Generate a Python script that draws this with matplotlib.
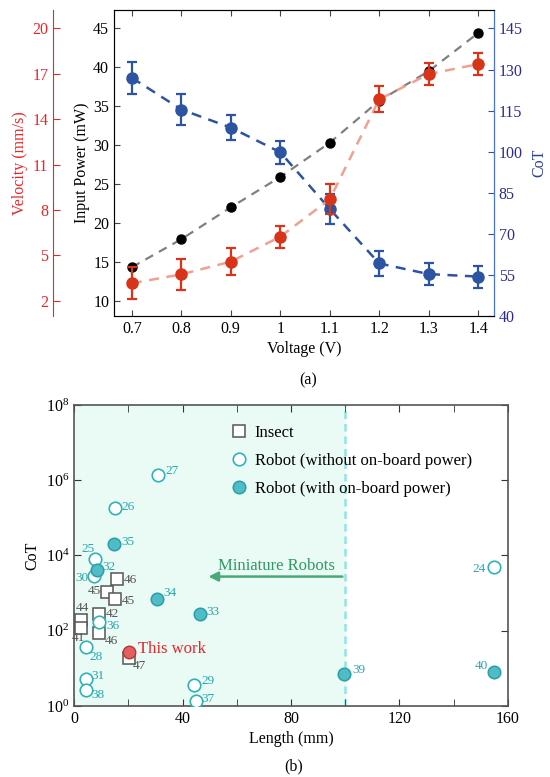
import matplotlib.pyplot as plt
import numpy as np

plt.rcParams['font.family'] = ['Liberation Serif', 'DejaVu Serif']
plt.rcParams['mathtext.fontset'] = 'stix'

# ---- panel (a) data
voltage = [0.7, 0.8, 0.9, 1.0, 1.1, 1.2, 1.3, 1.4]
power = [14.3, 17.9, 22.0, 25.9, 30.3, 35.7, 39.5, 44.4]
velocity = [3.15, 3.74, 4.58, 6.23, 8.70, 15.31, 16.98, 17.64]
velocity_err = [1.05, 1.02, 0.89, 0.73, 0.99, 0.86, 0.75, 0.75]
cot = [127.0, 115.4, 108.8, 99.8, 79.1, 59.2, 55.3, 54.4]
cot_err = [5.9, 5.6, 4.6, 4.2, 5.6, 4.6, 4.1, 4.0]

# ---- panel (b) data
insect_len = [15.9, 12.2, 15.0, 9.2, 2.5, 2.5, 9.2, 20.1]
insect_cot = [2300, 1070, 700, 280, 195, 116, 86, 19]
insect_ref = ['46', '45', '45', '42', '44', '41', '46', '47']

free_len = [30.9, 15.1, 7.5, 7.4, 9.1, 4.4, 4.3, 4.3, 44.3, 44.9, 155.0]
free_cot = [1.4e6, 1.8e5, 8.0e3, 2.9e3, 170, 38, 5.1, 2.7, 3.7, 1.36, 5.0e3]
free_ref = ['27', '26', '25', '30', '36', '28', '31', '38', '29', '37', '24']

power_len = [14.7, 8.3, 30.4, 46.4, 99.7, 155.0]
power_cot = [2.0e4, 4.0e3, 700, 275, 7.2, 8.2]
power_ref = ['35', '32', '34', '33', '39', '40']

this_len = [20.1]
this_cot = [27]

RED = '#d8341a'
RED_L = '#f0a090'
BLUE = '#2c54a3'
TEAL = '#2fb3b8'
TEAL_TXT = '#27a7ad'
GRAY_TXT = '#555555'

fig = plt.figure(figsize=(5.5, 7.77), dpi=100)

# ================= (a)
ax = fig.add_axes([0.2073, 0.5933, 0.6909, 0.3937])
ax_c = ax.twinx()
ax_v = ax.twinx()

ax.plot(voltage, power, ls=(0, (4, 3)), color='#808080', lw=1.6, zorder=2)
ax.plot(voltage, power, 'o', color='black', ms=6.5, zorder=5)
ax.set_ylim(8.03, 47.35)
ax.set_yticks([10, 15, 20, 25, 30, 35, 40, 45])
ax.set_xlim(0.664, 1.432)
ax.set_xticks(voltage)
ax.set_xticklabels(['0.7', '0.8', '0.9', '1', '1.1', '1.2', '1.3', '1.4'])
ax.set_xlabel('Voltage (V)', fontsize=11.5, labelpad=3)
ax.set_ylabel('Input Power (mW)', fontsize=11.5, labelpad=2)
ax.tick_params(direction='in', labelsize=11.5, top=True, length=4, color='#444444')
for s in ax.spines.values():
    s.set_color('#444444')

ax_c.plot(voltage, cot, ls=(0, (4, 3)), color=BLUE, lw=1.8, zorder=2)
ax_c.errorbar(voltage, cot, yerr=cot_err, fmt='o', color=BLUE, ms=8,
              capsize=3.5, elinewidth=1.6, capthick=1.6, zorder=4)
ax_c.set_ylim(40, 151.7)
ax_c.set_yticks([40, 55, 70, 85, 100, 115, 130, 145])
ax_c.set_ylabel('CoT', color=BLUE, fontsize=11.5, labelpad=6)
ax_c.tick_params(direction='in', labelsize=11.5, colors='#2b2b8f', length=4)
ax_c.tick_params(axis='y', color=BLUE)
ax_c.yaxis.label.set_color('#2b3f9a')
ax_c.spines['right'].set_color('#4a74d0')
ax_c.patch.set_visible(False)

ax_v.plot(voltage, velocity, ls=(0, (4, 3)), color=RED_L, lw=1.8, zorder=2)
ax_v.errorbar(voltage, velocity, yerr=velocity_err, fmt='o', color=RED, ms=8,
              capsize=3.5, elinewidth=1.6, capthick=1.6, zorder=4)
ax_v.set_ylim(2 + (8.03 - 10) * 18 / 35, 20 + (47.35 - 45) * 18 / 35)
ax_v.set_yticks([2, 5, 8, 11, 14, 17, 20])
ax_v.spines['left'].set_position(('axes', -0.16))
ax_v.spines['left'].set_visible(True)
ax_v.spines['left'].set_color('#e8262a')
ax_v.spines['right'].set_visible(False)
ax_v.spines['top'].set_visible(False)
ax_v.spines['bottom'].set_visible(False)
ax_v.yaxis.set_ticks_position('left')
ax_v.yaxis.set_label_position('left')
ax_v.tick_params(direction='in', labelsize=11.5, colors='#e8262a', length=5)
ax_v.set_ylabel('Velocity (mm/s)', color='#e8262a', fontsize=11.5, labelpad=3)
ax_v.patch.set_visible(False)

fig.text(308 / 550, 1 - 380 / 777, '(a)', ha='center', va='center', fontsize=11.5)

# ================= (b)
bx = fig.add_axes([0.1351, 0.0914, 0.7880, 0.3874])
bx.axvspan(0, 100, color='#e9fbf4', zorder=0)
bx.axvline(100, color='#8fe6e6', ls=(0, (3, 2)), lw=1.8, zorder=1)

bx.plot(insect_len, insect_cot, 's', ms=8, mfc='white', mec='#555555', mew=1.1,
        zorder=3, label='Insect')
bx.plot(free_len, free_cot, 'o', ms=9, mfc='white', mec=TEAL, mew=1.2,
        zorder=3, label='Robot (without on-board power)')
bx.plot(power_len, power_cot, 'o', ms=9, mfc='#4fbcc6', mec='#2a9ea8', mew=1.1,
        zorder=4, label='Robot (with on-board power)')
bx.plot(this_len, this_cot, 'o', ms=9, mfc='#e06060', mec='#c03030', mew=1.0,
        zorder=5)

insect_off = [(13, -1), (-13, 1), (13, -2), (13, 0), (1, 12), (-3, -10), (12, -8), (11, -8)]
free_off = [(14, 4), (13, 1), (-7, 10), (-12, -2), (14, -4), (10, -10), (12, 3),
            (12, -5), (14, 4), (12, 2), (-15, -2)]
power_off = [(14, 2), (12, 3), (13, 6), (13, 2), (15, 4), (-13, 6)]

for x, y, t, o in zip(insect_len, insect_cot, insect_ref, insect_off):
    bx.annotate(t, (x, y), xytext=o, textcoords='offset pixels', ha='center',
                va='center', fontsize=9.5, color=GRAY_TXT, zorder=6)
for x, y, t, o in zip(free_len, free_cot, free_ref, free_off):
    bx.annotate(t, (x, y), xytext=o, textcoords='offset pixels', ha='center',
                va='center', fontsize=9.5, color=TEAL_TXT, zorder=6)
for x, y, t, o in zip(power_len, power_cot, power_ref, power_off):
    bx.annotate(t, (x, y), xytext=o, textcoords='offset pixels', ha='center',
                va='center', fontsize=9.5, color=TEAL_TXT, zorder=6)
bx.annotate('This work', (this_len[0], this_cot[0]), xytext=(9, 3),
            textcoords='offset pixels', ha='left', va='center', fontsize=12,
            color='#e8262a', zorder=6)

bx.annotate('', xy=(48.5, 2750), xytext=(100, 2750),
            arrowprops=dict(arrowstyle='-|>', color='#4aa878', lw=1.8,
                            mutation_scale=14))
bx.text(74.5, 5300, 'Miniature Robots', ha='center', va='center', fontsize=12,
        color='#2e9a62')

bx.set_yscale('log')
bx.set_xlim(0, 160)
bx.set_ylim(1, 1e8)
bx.set_xticks([0, 40, 80, 120, 160])
bx.set_xticks([20, 60, 100, 140], minor=True)
bx.set_yticks([1, 1e2, 1e4, 1e6, 1e8])
bx.set_yticks([], minor=True)
bx.tick_params(which='both', direction='in', top=True, right=True, length=5,
               labelsize=11.5, color='#333333')
bx.set_xlabel('Length (mm)', fontsize=11.5, labelpad=3)
bx.set_ylabel('CoT', fontsize=11.5, labelpad=4)
for s in bx.spines.values():
    s.set_color('#555555')
    s.set_linewidth(1.2)

bx.legend(loc='upper left', bbox_to_anchor=(0.345, 0.955), frameon=False,
          fontsize=12, handlelength=1.0, handletextpad=0.45,
          labelspacing=0.72, borderaxespad=0)

fig.text(294 / 550, 1 - 766 / 777, '(b)', ha='center', va='center', fontsize=11.5)

fig.savefig('out.png', dpi=100)
